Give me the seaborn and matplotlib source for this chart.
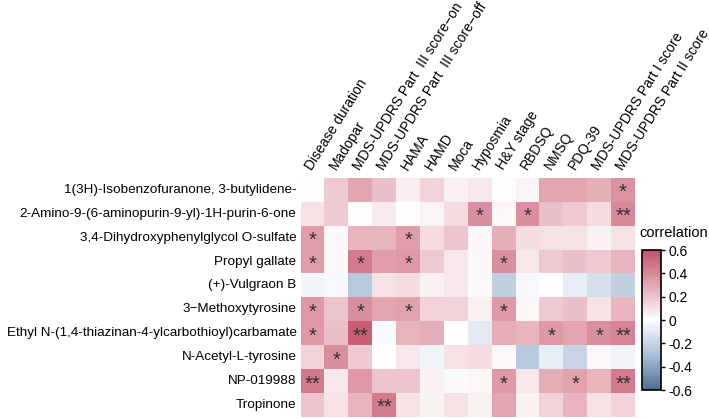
import numpy as np
import pandas as pd
import matplotlib
matplotlib.use("Agg")
import matplotlib.pyplot as plt
from matplotlib.colors import LinearSegmentedColormap
import seaborn as sns

plt.rcParams['font.family'] = ['Liberation Sans', 'DejaVu Sans']
plt.rcParams['axes.unicode_minus'] = False

rows = [
    "1(3H)-Isobenzofuranone, 3-butylidene-",
    "2-Amino-9-(6-aminopurin-9-yl)-1H-purin-6-one",
    "3,4-Dihydroxyphenylglycol O-sulfate",
    "Propyl gallate",
    "(+)-Vulgraon B",
    "3\u2212Methoxytyrosine",
    "Ethyl N-(1,4-thiazinan-4-ylcarbothioyl)carbamate",
    "N-Acetyl-L-tyrosine",
    "NP-019988",
    "Tropinone",
]
cols = [
    "Disease duration", "Madopar", "MDS-UPDRS Part  III score\u2212on",
    "MDS-UPDRS Part  III score\u2212off", "HAMA", "HAMD", "Moca", "Hyposmia",
    "H&Y stage", "RBDSQ", "NMSQ", "PDQ-39", "MDS-UPDRS Part I score",
    "MDS-UPDRS Part II score",
]

r_isobenzo  = [0.00, 0.18, 0.30, 0.22, 0.06, 0.15, 0.05, 0.08, 0.00, 0.04, 0.30, 0.30, 0.27, 0.37]
r_amino     = [0.10, 0.18, 0.00, 0.07, 0.00, 0.04, 0.12, 0.38, 0.03, 0.38, 0.22, 0.18, 0.12, 0.40]
r_dihydroxy = [0.33, 0.02, 0.25, 0.25, 0.33, 0.12, 0.20, 0.02, 0.27, 0.12, 0.10, 0.10, 0.05, 0.10]
r_propyl    = [0.33, 0.02, 0.45, 0.33, 0.35, 0.18, 0.08, 0.02, 0.38, 0.08, 0.18, 0.22, 0.18, 0.25]
r_vulgraon  = [-0.05, -0.03, -0.25, 0.10, 0.12, 0.05, 0.08, 0.02, -0.22, -0.03, 0.00, -0.08, -0.15, -0.22]
r_methoxy   = [0.35, 0.20, 0.38, 0.30, 0.32, 0.15, 0.15, 0.05, 0.35, 0.03, 0.18, 0.22, 0.10, 0.25]
r_ethyl     = [0.35, 0.22, 0.55, -0.02, 0.25, 0.28, 0.00, -0.10, 0.28, 0.25, 0.35, 0.30, 0.38, 0.42]
r_acetyl    = [0.15, 0.38, 0.18, 0.00, 0.08, -0.05, 0.10, 0.12, 0.02, -0.25, -0.08, -0.20, 0.02, -0.05]
r_np        = [0.45, 0.08, 0.35, 0.20, 0.20, 0.05, -0.02, 0.03, 0.35, 0.08, 0.28, 0.32, 0.25, 0.45]
r_tropinone = [0.20, 0.10, 0.25, 0.45, 0.10, 0.05, 0.10, 0.05, 0.30, 0.05, 0.15, 0.25, 0.10, 0.15]

s_isobenzo  = ["", "", "", "", "", "", "", "", "", "", "", "", "", "*"]
s_amino     = ["", "", "", "", "", "", "", "*", "", "*", "", "", "", "**"]
s_dihydroxy = ["*", "", "", "", "*", "", "", "", "", "", "", "", "", ""]
s_propyl    = ["*", "", "*", "", "*", "", "", "", "*", "", "", "", "", ""]
s_vulgraon  = ["", "", "", "", "", "", "", "", "", "", "", "", "", ""]
s_methoxy   = ["*", "", "*", "", "*", "", "", "", "*", "", "", "", "", ""]
s_ethyl     = ["*", "", "**", "", "", "", "", "", "", "", "*", "", "*", "**"]
s_acetyl    = ["", "*", "", "", "", "", "", "", "", "", "", "", "", ""]
s_np        = ["**", "", "", "", "", "", "", "", "*", "", "", "*", "", "**"]
s_tropinone = ["", "", "", "**", "", "", "", "", "", "", "", "", "", ""]

vals = np.array([r_isobenzo, r_amino, r_dihydroxy, r_propyl, r_vulgraon,
                 r_methoxy, r_ethyl, r_acetyl, r_np, r_tropinone])
stars = np.array([s_isobenzo, s_amino, s_dihydroxy, s_propyl, s_vulgraon,
                  s_methoxy, s_ethyl, s_acetyl, s_np, s_tropinone])
df = pd.DataFrame(vals, index=rows, columns=cols)

cmap = LinearSegmentedColormap.from_list(
    "corr", ["#4a6f97", "#a9bfd6", "#ffffff", "#e3a7b2", "#c4506a"])

fig = plt.figure(figsize=(7.09, 4.19), dpi=100)
ax = fig.add_axes([0.424, 0.005, 0.4716, 0.5705])
cax = fig.add_axes([0.9055, 0.069, 0.027, 0.334])

sns.heatmap(df, ax=ax, cmap=cmap, vmin=-0.6, vmax=0.6, cbar_ax=cax,
            annot=stars, fmt="", linewidths=0,
            annot_kws={"fontsize": 14.5, "color": "#333333", "va": "top"})

# shift asterisks so they look centered
for t in ax.texts:
    x, y = t.get_position()
    t.set_position((x, y - 0.28))

ax.set_xlabel("")
ax.set_ylabel("")
ax.tick_params(axis="both", length=0)
ax.xaxis.tick_top()
ax.set_xticks(np.arange(len(cols)) + 0.6)
ax.set_xticklabels(cols, rotation=58, ha="left", va="bottom",
                   rotation_mode="anchor", fontsize=10)
ax.tick_params(axis="x", pad=4)
ax.set_yticks(np.arange(len(rows)) + 0.5)
ax.set_yticklabels(rows, rotation=0, fontsize=9.7)
ax.tick_params(axis="y", pad=3)

cb = ax.collections[0].colorbar
cb.set_ticks([0.6, 0.4, 0.2, 0, -0.2, -0.4, -0.6])
cb.set_ticklabels(["0.6", "0.4", "0.2", "0", "-0.2", "-0.4", "-0.6"])
cax.tick_params(labelsize=10, length=3, width=1, color="black", pad=2)
cb.outline.set_visible(True)
cb.outline.set_edgecolor("black")
cb.outline.set_linewidth(1.2)
fig.text(0.9025, 0.445, "correlation", fontsize=10.5, ha="left", va="center")

fig.savefig("out.png", dpi=100)
